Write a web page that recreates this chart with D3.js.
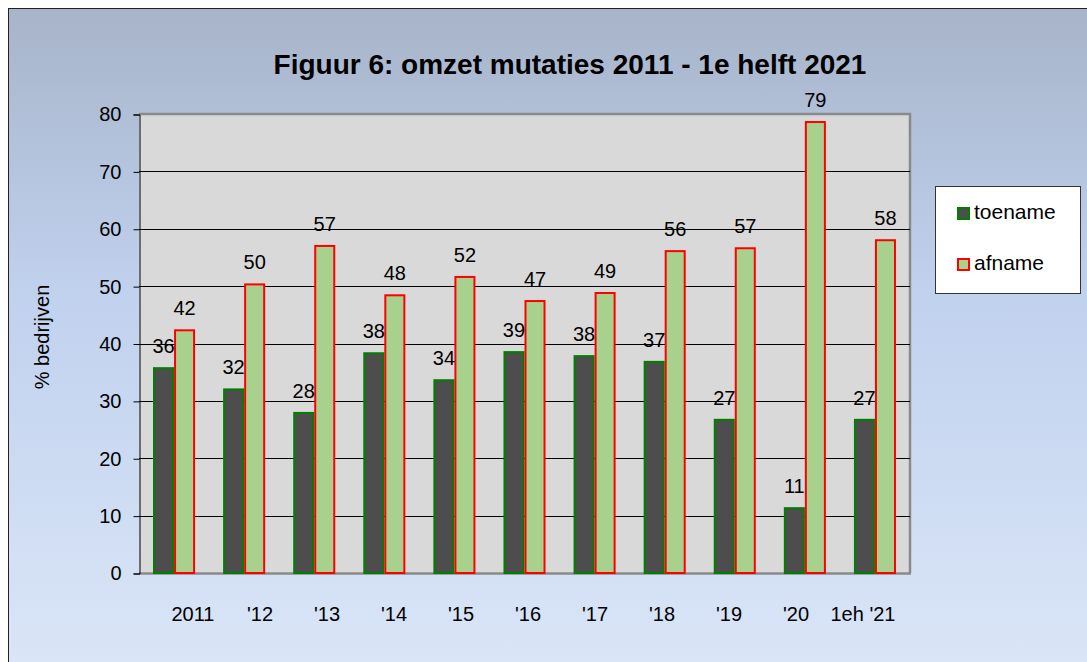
<!DOCTYPE html>
<html>
<head>
<meta charset="utf-8">
<style>
  body { margin: 0; background: #ffffff; }
  text { font-family: Arial, "Liberation Sans", sans-serif; fill: #000; }
</style>
</head>
<body>
<script src="https://cdn.jsdelivr.net/npm/d3@7"></script>
<script>
var categories = ["2011", "'12", "'13", "'14", "'15", "'16", "'17", "'18", "'19", "'20", "1eh '21"];
var toename = [35.7, 32.0, 27.9, 38.3, 33.6, 38.5, 37.8, 36.8, 26.7, 11.3, 26.7];
var afname  = [42.3, 50.3, 57.0, 48.4, 51.6, 47.4, 48.8, 56.1, 56.6, 78.6, 58.0];
var seriesNames = ["toename", "afname"];
var yTicks = [0, 10, 20, 30, 40, 50, 60, 70, 80];

var width = 1087, height = 662;
var plot = { left: 139, top: 114, right: 910, bottom: 573 };

var svg = d3.select('body').append('svg')
    .attr('width', width).attr('height', height);

var defs = svg.append('defs');
var grad = defs.append('linearGradient').attr('id', 'bg')
    .attr('x1', 0).attr('y1', 0).attr('x2', 0).attr('y2', 1);
grad.append('stop').attr('offset', '0%').attr('stop-color', '#a7b4c9');
grad.append('stop').attr('offset', '40%').attr('stop-color', '#c0d1ee');
grad.append('stop').attr('offset', '100%').attr('stop-color', '#dde8f8');

// outer chart area
svg.append('rect')
    .attr('x', 8.5).attr('y', 8.5).attr('width', 1100).attr('height', 700)
    .attr('fill', 'url(#bg)').attr('stroke', '#222').attr('stroke-width', 1);

// title
svg.append('text')
    .attr('x', 570).attr('y', 74)
    .attr('text-anchor', 'middle')
    .style('font-size', '28px').style('font-weight', 'bold')
    .text('Figuur 6: omzet mutaties 2011 - 1e helft 2021');

var x = d3.scaleBand().domain(categories)
    .range([plot.left, plot.right])
    .paddingInner(0.4).paddingOuter(0.2);
var xSub = d3.scaleBand().domain(seriesNames).range([0, x.bandwidth()]);
var y = d3.scaleLinear().domain([0, 80]).range([plot.bottom, plot.top]);

// plot area with shadowed border
svg.append('rect')
    .attr('x', plot.left).attr('y', plot.top)
    .attr('width', plot.right - plot.left).attr('height', plot.bottom - plot.top)
    .attr('fill', '#d9d9d9');
svg.append('path')
    .attr('d', 'M' + plot.left + ',' + plot.top + 'H' + plot.right + 'V' + plot.bottom)
    .attr('fill', 'none').attr('stroke', '#8a8a8a').attr('stroke-width', 2.5);
svg.append('line')
    .attr('x1', plot.left).attr('x2', plot.right + 1)
    .attr('y1', plot.bottom + 0.5).attr('y2', plot.bottom + 0.5)
    .attr('stroke', '#8a8a8a').attr('stroke-width', 2.5);

// gridlines
svg.append('g').selectAll('line')
    .data(yTicks.filter(function (t) { return t > 0 && t < 80; }))
    .enter().append('line')
    .attr('x1', plot.left).attr('x2', plot.right)
    .attr('y1', function (d) { return Math.round(y(d)) + 0.5; })
    .attr('y2', function (d) { return Math.round(y(d)) + 0.5; })
    .attr('stroke', '#000').attr('stroke-width', 1);

// y axis
var yAxis = svg.append('g')
    .attr('transform', 'translate(' + (plot.left + 0.5) + ',0.5)')
    .call(d3.axisLeft(y).tickValues(yTicks).tickSize(6).tickPadding(12));
yAxis.select('.domain').attr('stroke', '#000');
yAxis.selectAll('.tick line').attr('stroke', '#000');
yAxis.selectAll('.tick text')
    .style('font-size', '20px').style('font-family', 'Arial, "Liberation Sans", sans-serif')
    .attr('fill', '#000');

svg.append('text')
    .attr('transform', 'translate(49,337) rotate(-90)')
    .attr('text-anchor', 'middle')
    .style('font-size', '20px')
    .text('% bedrijven');

// bars
var rows = categories.map(function (c, i) {
    return { cat: c, values: [
        { key: 'toename', v: toename[i] },
        { key: 'afname', v: afname[i] }
    ] };
});
var fills = { toename: '#4d4d4d', afname: '#a9d18e' };
var strokes = { toename: '#008000', afname: '#ff0000' };

var groups = svg.append('g').selectAll('g')
    .data(rows).enter().append('g')
    .attr('transform', function (d) { return 'translate(' + x(d.cat) + ',0)'; });

groups.selectAll('rect')
    .data(function (d) { return d.values; })
    .enter().append('rect')
    .attr('x', function (d) { return xSub(d.key) + 1; })
    .attr('y', function (d) { return y(d.v); })
    .attr('width', xSub.bandwidth() - 2)
    .attr('height', function (d) { return y(0) - y(d.v); })
    .attr('fill', function (d) { return fills[d.key]; })
    .attr('stroke', function (d) { return strokes[d.key]; })
    .attr('stroke-width', 2);

groups.selectAll('text.val')
    .data(function (d) { return d.values; })
    .enter().append('text')
    .attr('class', 'val')
    .attr('x', function (d) { return xSub(d.key) + xSub.bandwidth() / 2; })
    .attr('y', function (d) { return y(d.v) - 15; })
    .attr('text-anchor', 'middle')
    .style('font-size', '20px')
    .text(function (d) { return Math.round(d.v); });

// x labels
var xLabel = d3.scalePoint().domain(categories).range([193, 863]);
svg.append('g').selectAll('text')
    .data(categories).enter().append('text')
    .attr('x', function (d) { return xLabel(d); })
    .attr('y', 621)
    .attr('text-anchor', 'middle')
    .style('font-size', '20px')
    .text(function (d) { return d; });

// legend
var legend = svg.append('g');
legend.append('rect')
    .attr('x', 935.5).attr('y', 186.5).attr('width', 145).attr('height', 107)
    .attr('fill', '#fff').attr('stroke', '#333').attr('stroke-width', 1);
var li = legend.selectAll('g.item')
    .data(seriesNames).enter().append('g')
    .attr('class', 'item')
    .attr('transform', function (d, i) { return 'translate(958,' + (208 + i * 51) + ')'; });
li.append('rect')
    .attr('width', 11).attr('height', 11)
    .attr('fill', function (d) { return fills[d]; })
    .attr('stroke', function (d) { return strokes[d]; })
    .attr('stroke-width', 2);
li.append('text')
    .attr('x', 16).attr('y', 11)
    .style('font-size', '21px')
    .text(function (d) { return d; });
</script>
</body>
</html>
